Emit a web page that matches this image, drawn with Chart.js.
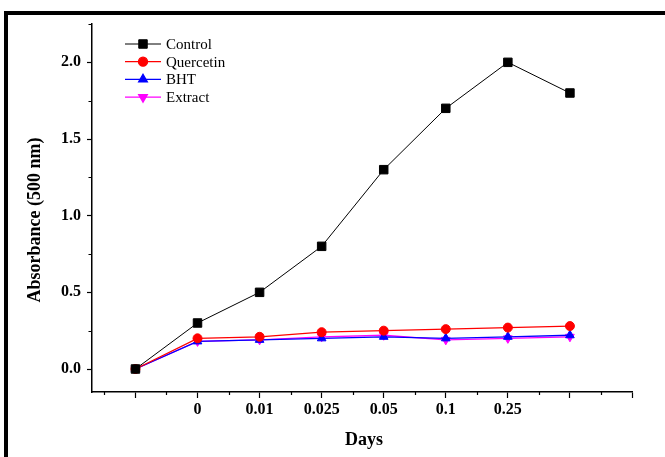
<!DOCTYPE html>
<html>
<head>
<meta charset="utf-8">
<script src="https://cdn.jsdelivr.net/npm/chart.js@4/dist/chart.umd.min.js"></script>
<style>
  html, body { margin: 0; padding: 0; background: #fff; overflow: hidden; }
  #wrap { position: relative; width: 665px; height: 457px; }
  #frame { position: absolute; left: 4px; top: 11px; width: 700px; height: 500px;
           border-top: 4px solid #000; border-left: 4px solid #000; pointer-events: none; }
  canvas { position: absolute; left: 0; top: 0; }
</style>
</head>
<body>
<div id="wrap">
  <canvas id="c" width="665" height="457"></canvas>
  <div id="frame"></div>
</div>
<script>
// ---- data ----
const dayLabels = ['', '0', '0.01', '0.025', '0.05', '0.1', '0.25', ''];
const control   = [0, 0.30, 0.50, 0.80, 1.30, 1.70, 2.00, 1.80];
const quercetin = [0, 0.20, 0.21, 0.24, 0.25, 0.26, 0.27, 0.28];
const bht       = [0, 0.18, 0.19, 0.20, 0.21, 0.20, 0.21, 0.22];
const extract   = [0, 0.18, 0.19, 0.21, 0.22, 0.19, 0.20, 0.21];
const yMajorTicks = [0, 0.5, 1.0, 1.5, 2.0];
const yMinorTicks = [0.25, 0.75, 1.25, 1.75, 2.25];
const seriesNames = ['Control', 'Quercetin', 'BHT', 'Extract'];

const toXY = arr => arr.map((v, i) => ({ x: i, y: v }));

const serif = "'Liberation Serif', 'Times New Roman', serif";

const legendPlugin = {
  id: 'customLegend',
  afterDraw(chart) {
    const ctx = chart.ctx;
    const x0 = 125, x1 = 161, xm = 143, xt = 166;
    const y0 = 44, dy = 17.7;
    ctx.save();
    chart.data.datasets.forEach((ds, i) => {
      const y = y0 + i * dy;
      ctx.strokeStyle = ds.borderColor;
      ctx.lineWidth = ds.borderWidth;
      ctx.beginPath(); ctx.moveTo(x0, y); ctx.lineTo(x1, y); ctx.stroke();
      ctx.fillStyle = ds.pointBackgroundColor;
      ctx.strokeStyle = ds.pointBorderColor;
      Chart.helpers.drawPoint(ctx, {
        pointStyle: ds.pointStyle, rotation: ds.pointRotation || 0,
        radius: ds.pointRadius, borderWidth: 1
      }, xm, y);
      ctx.fillStyle = '#000';
      ctx.font = "15px " + serif;
      ctx.textBaseline = 'middle';
      ctx.textAlign = 'left';
      ctx.fillText(ds.label, xt, y + 1);
    });
    ctx.restore();
  }
};

const minorTickPlugin = {
  id: 'minorTicks',
  afterDraw(chart) {
    const ctx = chart.ctx;
    const xs = chart.scales.x, ys = chart.scales.y;
    ctx.save();
    ctx.strokeStyle = '#000';
    ctx.lineWidth = 1.2;
    ctx.beginPath();
    for (let v = -0.5; v < xs.max; v += 1) {
      if (v < xs.min) continue;
      const px = Math.round(xs.getPixelForValue(v)) + 0.5;
      ctx.moveTo(px, xs.top); ctx.lineTo(px, xs.top + 3);
    }
    yMinorTicks.forEach(v => {
      const py = Math.round(ys.getPixelForValue(v)) + 0.5;
      ctx.moveTo(ys.right, py); ctx.lineTo(ys.right - 3.5, py);
    });
    ctx.stroke();
    // axis titles
    ctx.fillStyle = '#000';
    ctx.font = "bold 18px " + serif;
    ctx.textAlign = 'center';
    ctx.textBaseline = 'middle';
    ctx.fillText('Days', (xs.left + xs.right) / 2 + 2, 440);
    ctx.translate(35, 220);
    ctx.rotate(-Math.PI / 2);
    ctx.fillText('Absorbance (500 nm)', 0, 0);
    ctx.restore();
  }
};

const mk = (label, data, color, style, radius, rot, width) => ({
  label, data: toXY(data),
  borderColor: color, backgroundColor: color,
  pointBackgroundColor: color, pointBorderColor: color,
  pointStyle: style, pointRadius: radius, pointRotation: rot,
  pointBorderWidth: 1, borderWidth: width, tension: 0, fill: false
});

new Chart(document.getElementById('c'), {
  type: 'line',
  data: {
    datasets: [
      mk(seriesNames[0], control,   '#000000', 'rect',     6,   0,   1),
      mk(seriesNames[1], quercetin, '#ff0000', 'circle',   4.5, 0,   1.3),
      mk(seriesNames[2], bht,       '#0000ff', 'triangle', 5,   0,   1.3),
      mk(seriesNames[3], extract,   '#ff00ff', 'triangle', 5,   180, 1.3)
    ]
  },
  options: {
    responsive: false,
    animation: false,
    devicePixelRatio: 1,
    layout: { padding: { left: 0, right: 33, top: 24, bottom: 0 } },
    plugins: { legend: { display: false }, tooltip: { enabled: false } },
    scales: {
      x: {
        type: 'linear', min: -0.7, max: 8,
        afterBuildTicks: s => { s.ticks = dayLabels.concat(['']).map((_, i) => ({ value: i })); },
        afterFit: s => { s.height = 65; },
        grid: { display: true, drawOnChartArea: false, drawTicks: true, tickLength: 6,
                tickColor: '#000', tickWidth: 1.2 },
        border: { display: true, color: '#000', width: 1.5 },
        ticks: {
          autoSkip: false, maxRotation: 0, padding: 2, color: '#000',
          font: { family: serif, size: 16, weight: 'bold' },
          callback: v => (dayLabels[v] !== undefined ? dayLabels[v] : '')
        }
      },
      y: {
        type: 'linear', min: -0.15, max: 2.25,
        afterBuildTicks: s => { s.ticks = yMajorTicks.map(v => ({ value: v })); },
        afterFit: s => { s.width = 92; },
        grid: { display: true, drawOnChartArea: false, drawTicks: true, tickLength: 5,
                tickColor: '#000', tickWidth: 1.2 },
        border: { display: true, color: '#000', width: 1.5 },
        ticks: {
          padding: 6, color: '#000',
          font: { family: serif, size: 16, weight: 'bold' },
          callback: v => v.toFixed(1)
        }
      }
    }
  },
  plugins: [legendPlugin, minorTickPlugin]
});
</script>
</body>
</html>
